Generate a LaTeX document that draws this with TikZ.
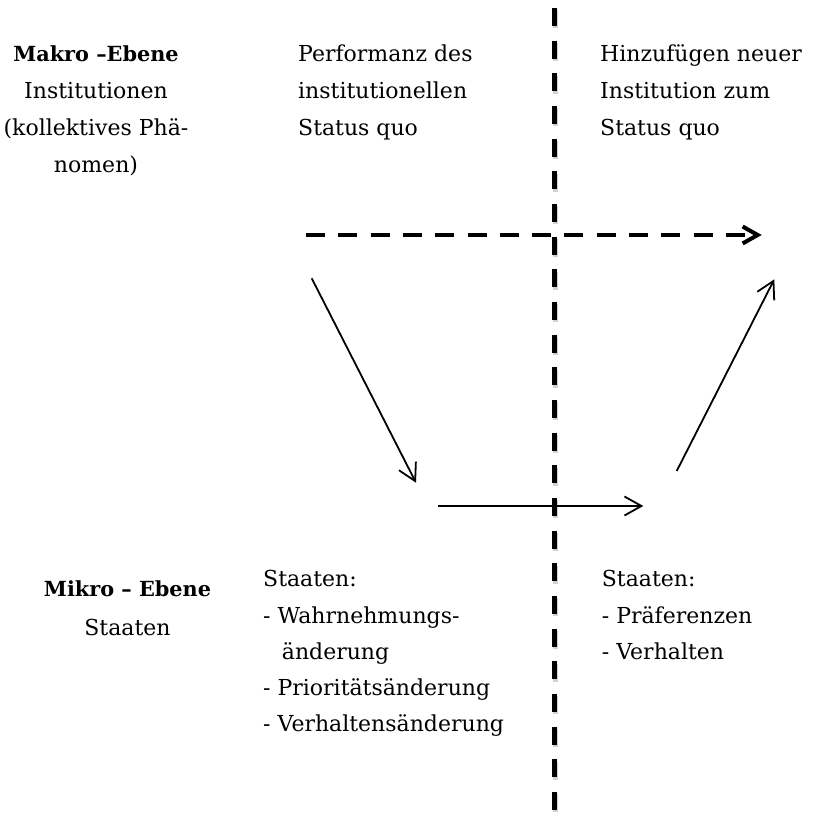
\documentclass[tikz,border=0pt]{standalone}
\usepackage{fontspec}
\setmainfont{DejaVu Serif}
\usetikzlibrary{arrows.meta}

% multi-line nodes are anchored at the baseline of their last line
\tikzset{
  body/.style={inner sep=0pt, font=\fontsize{22}{37}\selectfont},
  leftblock/.style={body, align=left, anchor=base west},
  midblock/.style={body, align=center, anchor=base},
  flow/.style={line width=1.8pt, -{Straight Barb[length=17pt,width=19pt,line width=1.8pt]}},
  trend/.style={line width=4pt, dash pattern=on 19pt off 13.3pt,
    -{Straight Barb[length=15pt,width=17pt,line width=4pt]}},
  divider/.style={line width=4.7pt, dash pattern=on 18pt off 14.67pt},
  dividershade/.style={line width=5.5pt, dash pattern=on 18pt off 14.67pt, black, opacity=0.18}
}
\newcommand{\levelname}[1]{{\fontsize{20.8}{37}\selectfont\bfseries #1}}

\begin{document}
\begin{tikzpicture}[x=1pt, y=-1pt]
\useasboundingbox (0,0) rectangle (815,813);

% level captions
\node[midblock] (makro) at (96,172.5)
  {\levelname{Makro –Ebene}\\Institutionen\\(kollektives Phä-\\nomen)};
\node[midblock, font=\fontsize{22}{38.5}\selectfont] (mikro) at (127.5,635.2)
  {\levelname{Mikro – Ebene}\\Staaten};

% column headings
\node[leftblock] (status) at (298,135.5)
  {Performanz des\\institutionellen\\Status quo};
\node[leftblock] (neu) at (600,136)
  {Hinzufügen neuer\\Institution zum\\Status quo};

% micro-level states
\node[leftblock, font=\fontsize{22}{36.3}\selectfont] (wandel) at (263,731.9)
  {Staaten:\\- Wahrnehmungs-\\\hspace*{18.7pt}änderung\\- Prioritätsänderung\\- Verhaltensänderung};
\node[leftblock, font=\fontsize{22}{36.3}\selectfont] (praef) at (601.7,659.3)
  {Staaten:\\- Präferenzen\\- Verhalten};

% arrow end points
\coordinate (macroA) at (306,235);
\coordinate (macroB) at (761.7,235);
\coordinate (downA) at (311.7,278.3);
\coordinate (downB) at (416,482.7);
\coordinate (microA) at (438.3,506);
\coordinate (microB) at (643.3,506);
\coordinate (upA) at (676.7,471);
\coordinate (upB) at (774.3,279.3);
\coordinate (divTop) at (554.3,8);
\coordinate (divBot) at (554.3,830);

% vertical divider with a soft shadow
\draw[dividershade] ([shift={(1,2.2)}]divTop) -- ([shift={(1,2.2)}]divBot);
\draw[divider] (divTop) -- (divBot);

% macro-level trend
\draw[trend] (macroA) -- (macroB);

% macro-micro-macro path
\draw[flow] (downA) -- (downB);
\draw[flow] (microA) -- (microB);
\draw[flow] (upA) -- (upB);
\end{tikzpicture}
\end{document}
